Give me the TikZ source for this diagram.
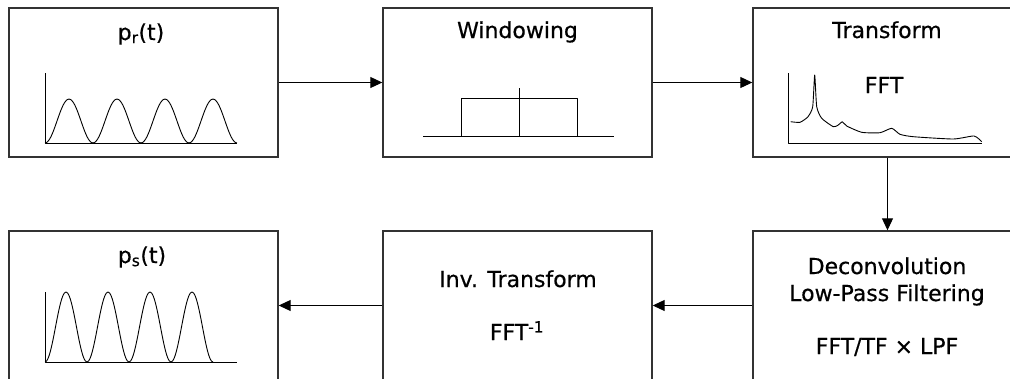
\documentclass[tikz,border=0pt]{standalone}
\usepackage{fontspec}
\setmainfont{DejaVu Sans}
\newfontfamily\lblfont[FakeBold=0.5]{DejaVu Sans}
\usetikzlibrary{arrows.meta, positioning}

\begin{document}
\begin{tikzpicture}[x=1pt,y=-1pt,
    block/.style={draw=black!80,line width=1.4pt,minimum width=269pt,minimum height=149pt,inner sep=0pt},
    lbl/.style={anchor=base,inner sep=0pt,font=\lblfont\fontsize{22}{26}\selectfont},
    flow/.style={-{Triangle[length=12pt,width=11pt]},line width=1pt},
    sketch/.style={line width=0.9pt,line join=round}]
        \useasboundingbox (0,0) rectangle (1010,378);
        \clip (0,0) rectangle (1010,378);
        \begin{scope}[every node/.style={block}]
          \node (pr) at (143.5,82.5) {};
          \node (win) at (517.5,82.5) {};
          \node (fft) at (887.5,82.5) {};
          \node (dec) at (887.5,305.5) {};
          \node (ifft) at (517.5,305.5) {};
          \node (ps) at (143.5,305.5) {};
        \end{scope}
        \begin{scope}[every node/.style={lbl}]
          \node (prlbl) at (141,40) {p\textsubscript{r}(t)};
          \node (winlbl) at (517.5,38) {Windowing};
          \node (fftlbl) at (887,38) {Transform};
          \node (fftsub) at (884,93) {FFT};
          \node (pslbl) at (142,263) {p\textsubscript{s}(t)};
          \node (ifftlbl) at (518,287) {Inv. Transform};
          \node (ifftsub) at (517,340) {FFT\textsuperscript{-1}};
          \node (declbl) at (887,274) {Deconvolution};
          \node (lpflbl) at (887,301) {Low-Pass Filtering};
          \node (decsub) at (887,354) {FFT/TF × LPF};
        \end{scope}
        % received pulse
        \draw[sketch] (45,73) -- (45,143) -- (237,143);
        \draw[sketch] plot[domain=0:192,samples=97,smooth] ({45+\x},{143-22*(1-cos(\x*7.5))});
        % window
        \draw[sketch] (423,136) -- (614,136);
        \draw[sketch] (461,136) |- (577,98) -- (577,136);
        \draw[sketch] (519,88) -- (519,136);
        % spectrum
        \draw[sketch] (788,73) -- (788,143) -- (982,143);
        \draw[sketch] plot[smooth,tension=0.35] coordinates {(790.7,121.7) (800,122.3) (808,116.7) (812.7,106.7)
          (814.7,75) (816.7,106.7) (821.7,118.3) (833.3,126.7) (838.3,125) (842.3,121.7) (846.7,126)
          (861.7,132.3) (880,132.7) (891.7,128.3) (900,134.3) (913.3,136.7) (953.3,139) (974,136) (981.7,141.7)};
        % source pulse
        \draw[sketch] (45,292) -- (45,362) -- (237,362);
        \draw[sketch] plot[domain=0:168,samples=97,smooth] ({45+\x},{362-35*(1-cos(\x*8.5714))});
        \path (pr) edge[flow] (win);
        \path (win) edge[flow] (fft);
        \path (fft) edge[flow] (dec);
        \path (dec) edge[flow] (ifft);
        \path (ifft) edge[flow] (ps);
      \end{tikzpicture}
\end{document}
